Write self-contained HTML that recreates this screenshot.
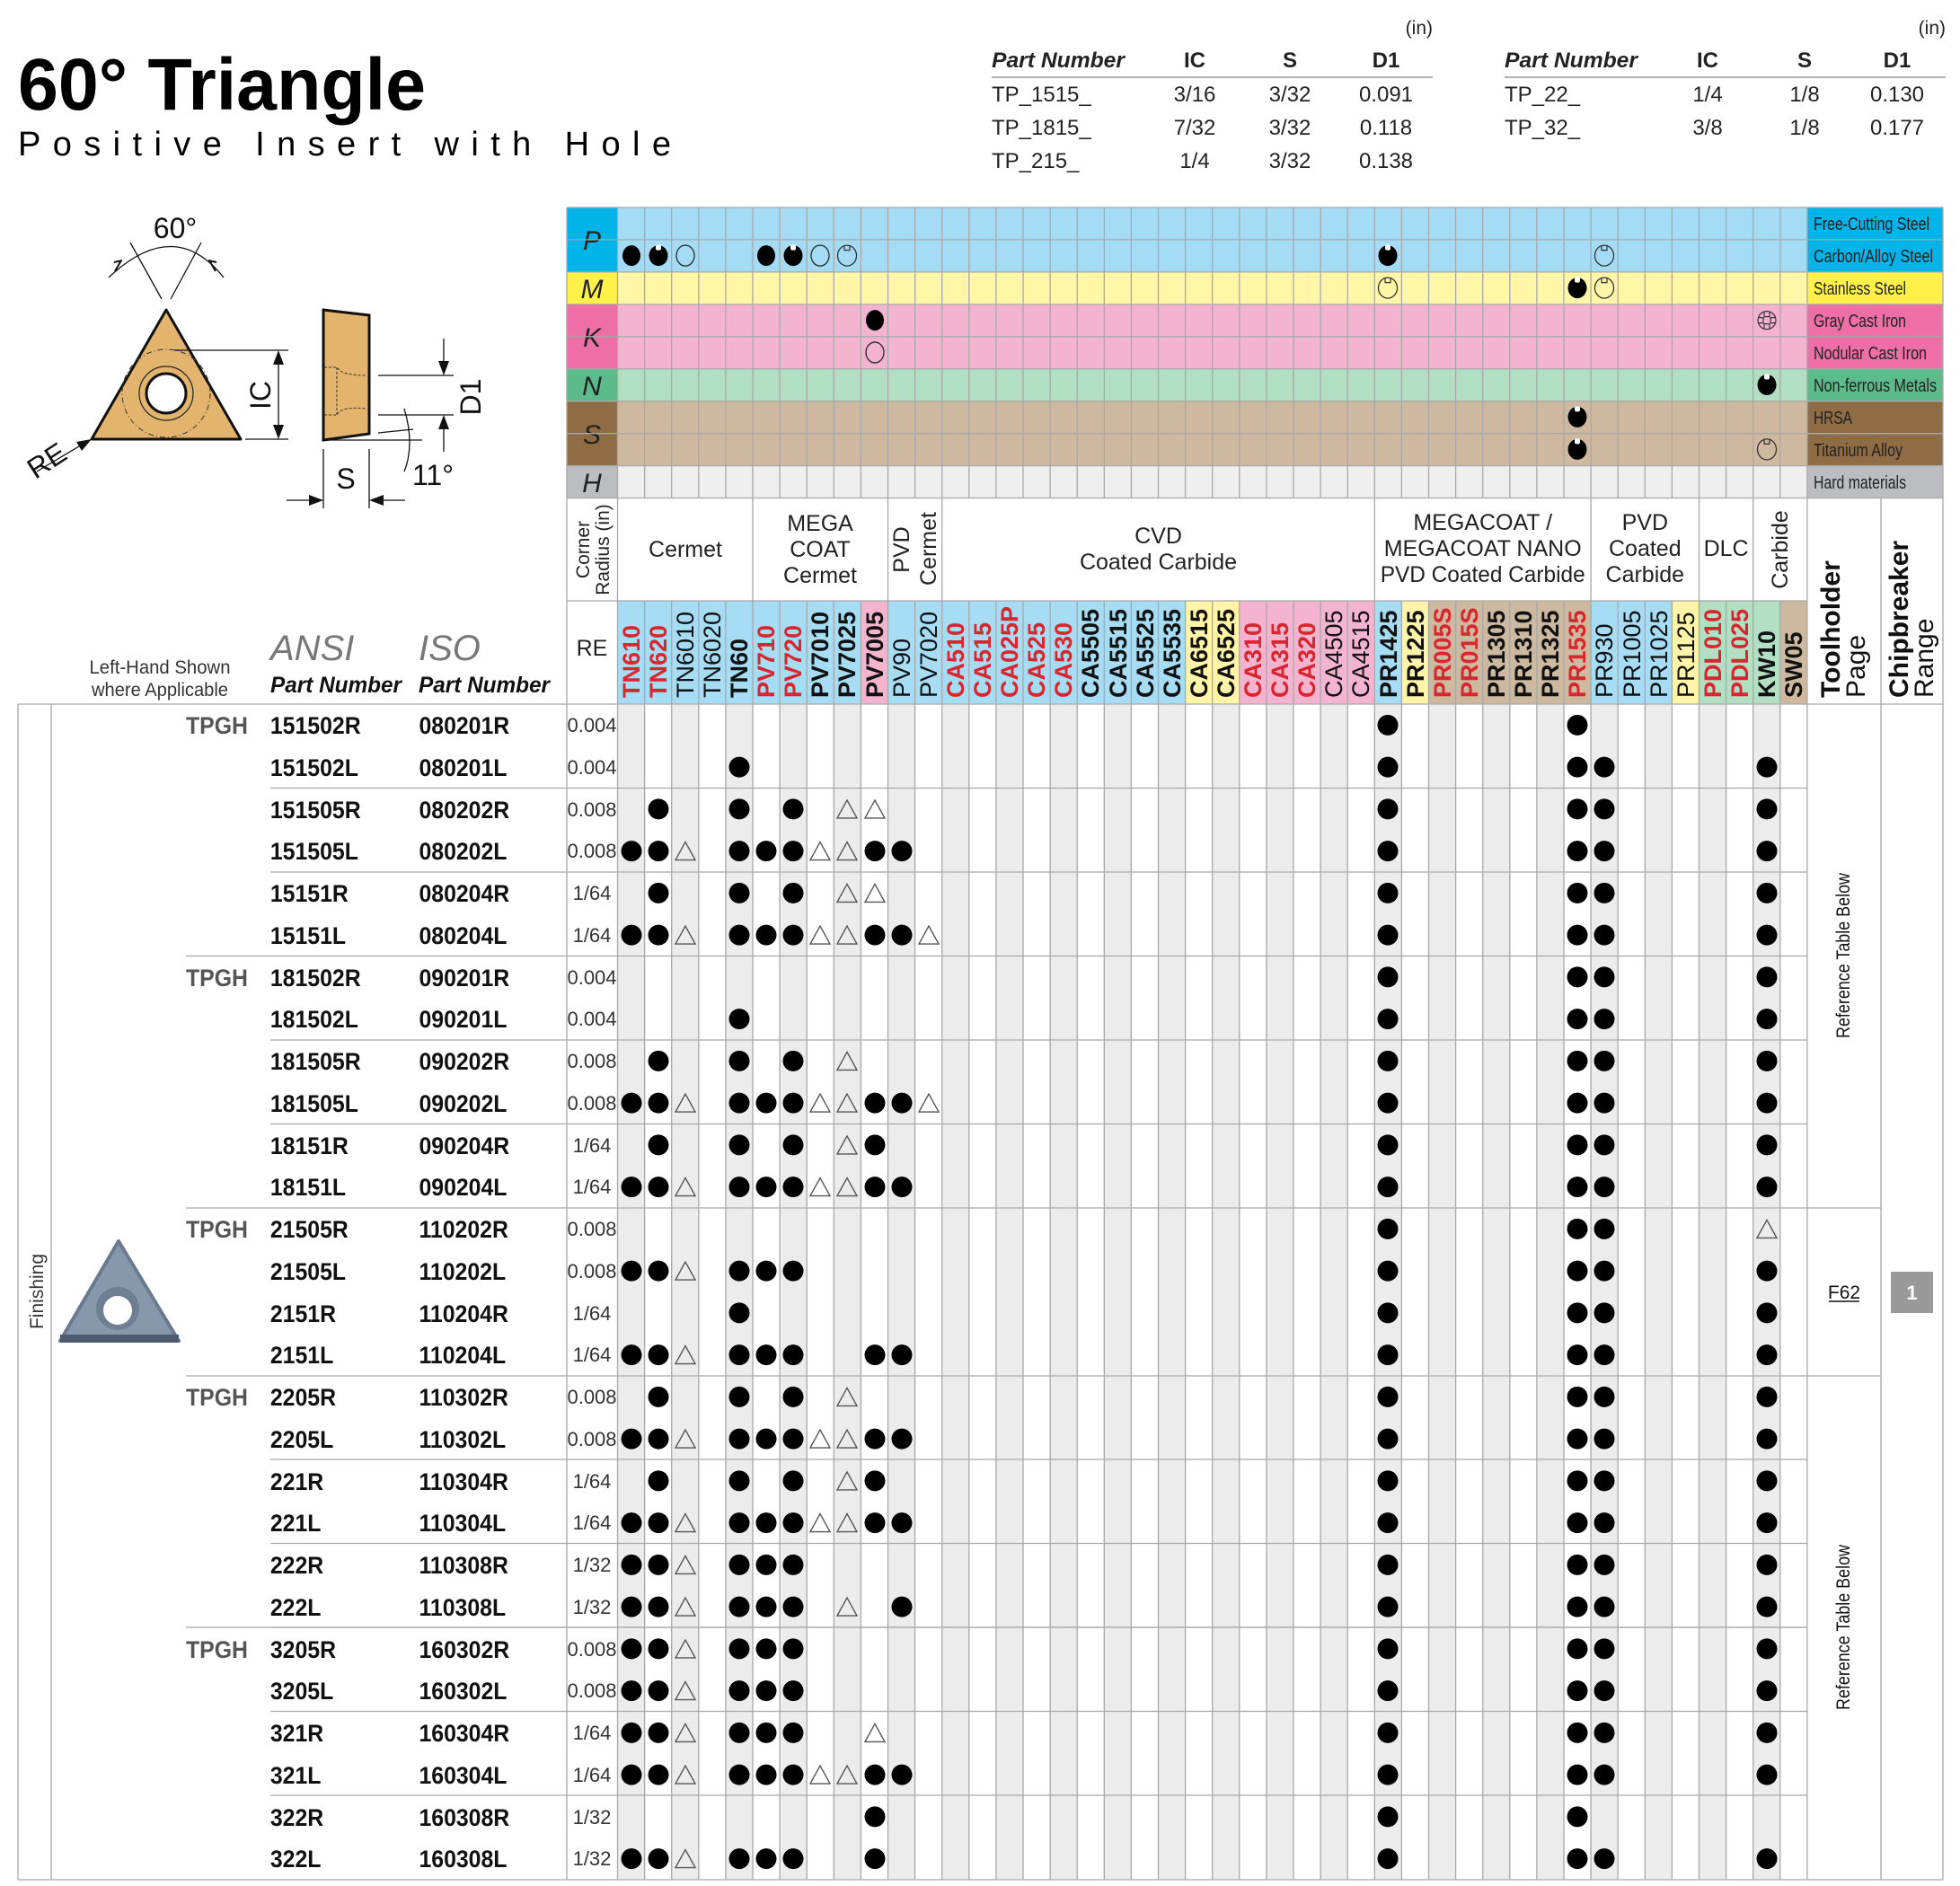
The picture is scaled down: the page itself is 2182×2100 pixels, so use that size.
<!DOCTYPE html>
<html><head><meta charset="utf-8"><style>
html,body{margin:0;padding:0;background:#fff;}
svg{display:block;}
.n{font-family:"Liberation Sans Narrow","Liberation Sans",sans-serif;}
.s{font-family:"Liberation Sans",sans-serif;}
</style></head><body>
<svg width="2182" height="2100" viewBox="0 0 2182 2100" xmlns="http://www.w3.org/2000/svg">
<defs>
<ellipse id="d" cx="0" cy="0" rx="11.5" ry="11.5" fill="#000"/>
<polygon id="t" points="0,-10 11,10 -11,10" fill="none" stroke="#555" stroke-width="1.4"/>
<ellipse id="dm" cx="0" cy="0" rx="10" ry="11.5" fill="#000"/>
<ellipse id="o" cx="0" cy="0" rx="10" ry="11.5" fill="none" stroke="#333" stroke-width="1.4"/>
<g id="nf"><ellipse cx="0" cy="0" rx="10.5" ry="11.5" fill="#000"/><rect x="-3" y="-12" width="6" height="6" rx="2" fill="#fff"/></g>
<g id="no"><ellipse cx="0" cy="0" rx="10.5" ry="11.5" fill="none" stroke="#333" stroke-width="1.3"/><path d="M-3 -11.5V-6H3V-11.5" fill="none" stroke="#333" stroke-width="1.2"/></g>
<g id="gear" fill="none" stroke="#333" stroke-width="1.2"><circle r="10"/><path d="M-3 -10V-4H3V-10M-3 10V4H3V10M-10 -3H-4V3H-10M10 -3H4V3H10"/></g>
<g id="T"><use href="#d" x="1545"/><use href="#d" x="1756"/><use href="#d" x="1786"/><use href="#d" x="1967"/></g>
<g id="A"><use href="#d" x="703"/><use href="#d" x="733"/><use href="#t" x="763"/><use href="#d" x="823"/><use href="#d" x="853"/><use href="#d" x="883"/><use href="#T"/></g>
<g id="R3"><use href="#A"/><use href="#t" x="913"/><use href="#t" x="943"/><use href="#d" x="974"/><use href="#d" x="1004"/></g>
<g id="B"><use href="#d" x="733"/><use href="#d" x="823"/><use href="#d" x="883"/><use href="#T"/></g>
</defs>

<!-- Title -->
<text x="20" y="122" class="s" font-size="82" font-weight="bold" textLength="454" lengthAdjust="spacingAndGlyphs">60° Triangle</text>
<text x="20" y="173" class="s" font-size="38" textLength="727" lengthAdjust="spacing">Positive Insert with Hole</text>

<!-- Top spec tables -->
<g class="n" font-size="24" fill="#222">
<text x="1595" y="38" text-anchor="end" font-size="21">(in)</text>
<text x="1104" y="75" font-weight="bold" font-style="italic" textLength="148" lengthAdjust="spacingAndGlyphs">Part Number</text>
<text x="1330" y="75" font-weight="bold" text-anchor="middle">IC</text>
<text x="1436" y="75" font-weight="bold" text-anchor="middle">S</text>
<text x="1543" y="75" font-weight="bold" text-anchor="middle">D1</text>
<line x1="1104" y1="86" x2="1595" y2="86" stroke="#999" stroke-width="1.5"/>
<text x="1104" y="113">TP_1515_</text><text x="1330" y="113" text-anchor="middle">3/16</text><text x="1436" y="113" text-anchor="middle">3/32</text><text x="1543" y="113" text-anchor="middle">0.091</text>
<text x="1104" y="150">TP_1815_</text><text x="1330" y="150" text-anchor="middle">7/32</text><text x="1436" y="150" text-anchor="middle">3/32</text><text x="1543" y="150" text-anchor="middle">0.118</text>
<text x="1104" y="187">TP_215_</text><text x="1330" y="187" text-anchor="middle">1/4</text><text x="1436" y="187" text-anchor="middle">3/32</text><text x="1543" y="187" text-anchor="middle">0.138</text>
<text x="2166" y="38" text-anchor="end" font-size="21">(in)</text>
<text x="1675" y="75" font-weight="bold" font-style="italic" textLength="148" lengthAdjust="spacingAndGlyphs">Part Number</text>
<text x="1901" y="75" font-weight="bold" text-anchor="middle">IC</text>
<text x="2009" y="75" font-weight="bold" text-anchor="middle">S</text>
<text x="2112" y="75" font-weight="bold" text-anchor="middle">D1</text>
<line x1="1675" y1="86" x2="2166" y2="86" stroke="#999" stroke-width="1.5"/>
<text x="1675" y="113">TP_22_</text><text x="1901" y="113" text-anchor="middle">1/4</text><text x="2009" y="113" text-anchor="middle">1/8</text><text x="2112" y="113" text-anchor="middle">0.130</text>
<text x="1675" y="150">TP_32_</text><text x="1901" y="150" text-anchor="middle">3/8</text><text x="2009" y="150" text-anchor="middle">1/8</text><text x="2112" y="150" text-anchor="middle">0.177</text>
</g>

<!-- Diagram -->
<g stroke="#111" fill="none" stroke-width="1.3">
<path d="M121 309 Q194 240 249 309"/>
<path d="M145 270 L180 333 M224 270 L190 333"/>
<path d="M135 290 l-7 12 M136 290 l-9 2" stroke-width="2"/>
<path d="M233 290 l7 12 M232 290 l9 2" stroke-width="2"/>
</g>
<polygon points="185,345 102,489 268,489" fill="#e3b46e" stroke="#111" stroke-width="3" stroke-linejoin="round"/>
<circle cx="185" cy="438" r="49" fill="none" stroke="#333" stroke-width="1" stroke-dasharray="6,3,1,3"/>
<circle cx="185" cy="438" r="30" fill="none" stroke="#222" stroke-width="1.2"/>
<circle cx="185" cy="438" r="22" fill="#fff" stroke="#111" stroke-width="3"/>
<g stroke="#111" stroke-width="1.3" fill="none">
<path d="M194 390H321 M273 489H321 M310 394V485"/>
<path d="M421 418H505 M421 462H505 M494 377V414 M494 466V503"/>
<path d="M360 500V566 M411 500V566 M319 557H356 M415 557H451"/>
<path d="M421 482 L460 478 M360 490 H470 M450 455 Q462 495 450 525"/>
<path d="M41 525 L98 491"/>
</g>
<g fill="#111">
<polygon points="310,390 304,406 316,406"/><polygon points="310,489 304,473 316,473"/>
<polygon points="494,418 488,402 500,402"/><polygon points="494,462 488,478 500,478"/>
<polygon points="360,557 344,551 344,563"/><polygon points="411,557 427,551 427,563"/>
<polygon points="102,489 85,492 91,502"/>
</g>
<polygon points="360,345 411,351 411,483 360,490" fill="#e3b46e" stroke="#111" stroke-width="3"/>
<path d="M361 409H375 Q380 418 408 418 M361 462H375 Q380 452 408 455 M375 409V462" fill="none" stroke="#333" stroke-width="1" stroke-dasharray="3,2"/>
<g class="n" font-size="32" fill="#111">
<text x="195" y="265" text-anchor="middle">60°</text>
<text x="385" y="544" text-anchor="middle">S</text>
<text x="459" y="540">11°</text>
<text transform="translate(301,440) rotate(-90)" text-anchor="middle">IC</text>
<text transform="translate(535,442) rotate(-90)" text-anchor="middle">D1</text>
<text transform="translate(58,522) rotate(-33)" text-anchor="middle">RE</text>
</g>

<!-- Material area backgrounds -->
<rect x="631" y="231" width="56.5" height="71.9" fill="#00b3e8"/>
<rect x="631" y="302.9" width="56.5" height="36" fill="#fff04a"/>
<rect x="631" y="338.9" width="56.5" height="71.9" fill="#ee6ea6"/>
<rect x="631" y="410.8" width="56.5" height="35.9" fill="#5dba8b"/>
<rect x="631" y="446.7" width="56.5" height="71.9" fill="#8e6c45"/>
<rect x="631" y="518.6" width="56.5" height="35.9" fill="#bcbdc0"/>
<rect x="687.5" y="231" width="1324.4" height="71.9" fill="#a5dcf5"/>
<rect x="687.5" y="302.9" width="1324.4" height="36" fill="#fff6a8"/>
<rect x="687.5" y="338.9" width="1324.4" height="71.9" fill="#f4b4d0"/>
<rect x="687.5" y="410.8" width="1324.4" height="35.9" fill="#b2dfc3"/>
<rect x="687.5" y="446.7" width="1324.4" height="71.9" fill="#cfb8a0"/>
<rect x="687.5" y="518.6" width="1324.4" height="35.9" fill="#efefef"/>
<rect x="2012" y="231" width="151" height="71.9" fill="#00b3e8"/>
<rect x="2012" y="302.9" width="151" height="36" fill="#fff04a"/>
<rect x="2012" y="338.9" width="151" height="71.9" fill="#ee6ea6"/>
<rect x="2012" y="410.8" width="151" height="35.9" fill="#5dba8b"/>
<rect x="2012" y="446.7" width="151" height="71.9" fill="#8e6c45"/>
<rect x="2012" y="518.6" width="151" height="35.9" fill="#bcbdc0"/>
<g class="s" font-size="30" font-style="italic" fill="#222" text-anchor="middle">
<text x="659" y="278">P</text><text x="659" y="332">M</text><text x="659" y="386">K</text><text x="659" y="440">N</text><text x="659" y="494">S</text><text x="659" y="548">H</text>
</g>
<g class="n" font-size="20" fill="#222" lengthAdjust="spacingAndGlyphs">
<text x="2019" y="256" textLength="129" lengthAdjust="spacingAndGlyphs">Free-Cutting Steel</text>
<text x="2019" y="292" textLength="133" lengthAdjust="spacingAndGlyphs">Carbon/Alloy Steel</text>
<text x="2019" y="328" textLength="103" lengthAdjust="spacingAndGlyphs">Stainless Steel</text>
<text x="2019" y="364" textLength="103" lengthAdjust="spacingAndGlyphs">Gray Cast Iron</text>
<text x="2019" y="400" textLength="126" lengthAdjust="spacingAndGlyphs">Nodular Cast Iron</text>
<text x="2019" y="436" textLength="137" lengthAdjust="spacingAndGlyphs">Non-ferrous Metals</text>
<text x="2019" y="472" textLength="43" lengthAdjust="spacingAndGlyphs">HRSA</text>
<text x="2019" y="508" textLength="99" lengthAdjust="spacingAndGlyphs">Titanium Alloy</text>
<text x="2019" y="544" textLength="103" lengthAdjust="spacingAndGlyphs">Hard materials</text>
</g>

<!-- Name row backgrounds -->
<rect x="687.5" y="669" width="270.9" height="115" fill="#a6dcf4"/>
<rect x="958.4" y="669" width="30.1" height="115" fill="#f4b3cf"/>
<rect x="988.5" y="669" width="331.1" height="115" fill="#a6dcf4"/>
<rect x="1319.6" y="669" width="60.2" height="115" fill="#fff5a8"/>
<rect x="1379.8" y="669" width="150.5" height="115" fill="#f4b3cf"/>
<rect x="1530.3" y="669" width="30.1" height="115" fill="#a6dcf4"/>
<rect x="1560.4" y="669" width="30.1" height="115" fill="#fff5a8"/>
<rect x="1590.5" y="669" width="180.6" height="115" fill="#cdb8a0"/>
<rect x="1771.1" y="669" width="90.3" height="115" fill="#a6dcf4"/>
<rect x="1861.4" y="669" width="30.1" height="115" fill="#fff5a8"/>
<rect x="1891.5" y="669" width="90.3" height="115" fill="#b3dfc4"/>
<rect x="1981.8" y="669" width="30.1" height="115" fill="#cdb8a0"/>

<!-- Data shading -->
<g fill="#ececec">
<rect x="687.5" y="784" width="30.1" height="1309"/><rect x="747.7" y="784" width="30.1" height="1309"/><rect x="807.9" y="784" width="30.1" height="1309"/><rect x="868.1" y="784" width="30.1" height="1309"/><rect x="928.3" y="784" width="30.1" height="1309"/><rect x="988.5" y="784" width="30.1" height="1309"/><rect x="1048.7" y="784" width="30.1" height="1309"/><rect x="1108.9" y="784" width="30.1" height="1309"/><rect x="1169.1" y="784" width="30.1" height="1309"/><rect x="1229.3" y="784" width="30.1" height="1309"/><rect x="1289.5" y="784" width="30.1" height="1309"/><rect x="1349.7" y="784" width="30.1" height="1309"/><rect x="1409.9" y="784" width="30.1" height="1309"/><rect x="1470.1" y="784" width="30.1" height="1309"/><rect x="1530.3" y="784" width="30.1" height="1309"/><rect x="1590.5" y="784" width="30.1" height="1309"/><rect x="1650.7" y="784" width="30.1" height="1309"/><rect x="1710.9" y="784" width="30.1" height="1309"/><rect x="1771.1" y="784" width="30.1" height="1309"/><rect x="1831.3" y="784" width="30.1" height="1309"/><rect x="1891.5" y="784" width="30.1" height="1309"/><rect x="1951.7" y="784" width="30.1" height="1309"/>
</g>

<!-- Grid lines -->
<g stroke="#a8a8a8" stroke-width="1.3" fill="none">
<path d="M631 266.9H2163M631 302.9H2163M631 338.9H2163M631 374.8H2163M631 410.8H2163M631 446.7H2163M631 482.7H2163M631 518.6H2163"/>
<path d="M631 231H2163M631 554.5H2163M631 669H2012M20 784H2163M20 2093H2163"/>
<path d="M20 784V2093M57 784V2093M631 231V2093M2094 554.5V2093M2163 231V2093"/>
<path d="M687.5 231V2093M838 231V2093M988.5 231V2093M1048.7 231V2093M1530.3 231V2093M1771.1 231V2093M1891.5 231V2093M1951.7 231V2093M2011.9 231V2093"/>
<path d="M717.6 231V554.5M747.7 231V554.5M777.8 231V554.5M807.9 231V554.5M868.1 231V554.5M898.2 231V554.5M928.3 231V554.5M958.4 231V554.5M1018.6 231V554.5M1078.8 231V554.5M1108.9 231V554.5M1139 231V554.5M1169.1 231V554.5M1199.2 231V554.5M1229.3 231V554.5M1259.4 231V554.5M1289.5 231V554.5M1319.6 231V554.5M1349.7 231V554.5M1379.8 231V554.5M1409.9 231V554.5M1440 231V554.5M1470.1 231V554.5M1500.2 231V554.5M1560.4 231V554.5M1590.5 231V554.5M1620.6 231V554.5M1650.7 231V554.5M1680.8 231V554.5M1710.9 231V554.5M1741 231V554.5M1801.2 231V554.5M1831.3 231V554.5M1861.4 231V554.5M1921.6 231V554.5M1981.8 231V554.5"/>
<path d="M717.6 669V2093M747.7 669V2093M777.8 669V2093M807.9 669V2093M868.1 669V2093M898.2 669V2093M928.3 669V2093M958.4 669V2093M1018.6 669V2093M1078.8 669V2093M1108.9 669V2093M1139 669V2093M1169.1 669V2093M1199.2 669V2093M1229.3 669V2093M1259.4 669V2093M1289.5 669V2093M1319.6 669V2093M1349.7 669V2093M1379.8 669V2093M1409.9 669V2093M1440 669V2093M1470.1 669V2093M1500.2 669V2093M1560.4 669V2093M1590.5 669V2093M1620.6 669V2093M1650.7 669V2093M1680.8 669V2093M1710.9 669V2093M1741 669V2093M1801.2 669V2093M1831.3 669V2093M1861.4 669V2093M1921.6 669V2093M1981.8 669V2093"/>
<path d="M301 877.5H2012M301 971H2012M301 1158H2012M301 1251.5H2012M301 1625H2012M301 1718.5H2012M301 1812H2012M301 1905.5H2012M301 1999H2012"/>
<path d="M207 1064.5H2012M207 1345H2094M207 1532H2094M207 1812H2012"/>
</g>

<!-- Group headers -->
<g class="s" font-size="25" fill="#222" text-anchor="middle">
<text x="763" y="620">Cermet</text>
<text x="913" y="591">MEGA</text><text x="913" y="620">COAT</text><text x="913" y="649">Cermet</text>
<text transform="translate(1012,612) rotate(-90)">PVD</text>
<text transform="translate(1042,611) rotate(-90)">Cermet</text>
<text x="1289.5" y="605">CVD</text><text x="1289.5" y="634">Coated Carbide</text>
<text x="1650.7" y="590">MEGACOAT /</text><text x="1650.7" y="619">MEGACOAT NANO</text><text x="1650.7" y="648" textLength="228" lengthAdjust="spacingAndGlyphs">PVD Coated Carbide</text>
<text x="1831.3" y="590">PVD</text><text x="1831.3" y="619">Coated</text><text x="1831.3" y="648">Carbide</text>
<text x="1921.6" y="619">DLC</text>
<text transform="translate(1990,612) rotate(-90)">Carbide</text>
<text x="659" y="730">RE</text>
</g>
<g class="s" font-size="21" fill="#222" text-anchor="middle">
<text transform="translate(656,612) rotate(-90)">Corner</text>
<text transform="translate(678,612) rotate(-90)">Radius (in)</text>
</g>
<g class="s" font-size="30" fill="#111">
<text transform="translate(2048,777) rotate(-90)"><tspan font-weight="bold">Toolholder</tspan></text>
<text transform="translate(2076,777) rotate(-90)">Page</text>
<text transform="translate(2124,777) rotate(-90)"><tspan font-weight="bold">Chipbreaker</tspan></text>
<text transform="translate(2152,777) rotate(-90)">Range</text>
</g>

<!-- Grade names -->
<g class="s" font-size="27">
<text transform="translate(712,777) rotate(-90)" fill="#d7262e" font-weight="bold">TN610</text>
<text transform="translate(742,777) rotate(-90)" fill="#d7262e" font-weight="bold">TN620</text>
<text transform="translate(772,777) rotate(-90)" fill="#111">TN6010</text>
<text transform="translate(802,777) rotate(-90)" fill="#111">TN6020</text>
<text transform="translate(832,777) rotate(-90)" fill="#111" font-weight="bold">TN60</text>
<text transform="translate(862,777) rotate(-90)" fill="#d7262e" font-weight="bold">PV710</text>
<text transform="translate(892,777) rotate(-90)" fill="#d7262e" font-weight="bold">PV720</text>
<text transform="translate(922,777) rotate(-90)" fill="#111" font-weight="bold">PV7010</text>
<text transform="translate(952,777) rotate(-90)" fill="#111" font-weight="bold">PV7025</text>
<text transform="translate(983,777) rotate(-90)" fill="#111" font-weight="bold">PV7005</text>
<text transform="translate(1013,777) rotate(-90)" fill="#111">PV90</text>
<text transform="translate(1043,777) rotate(-90)" fill="#111">PV7020</text>
<text transform="translate(1073,777) rotate(-90)" fill="#d7262e" font-weight="bold">CA510</text>
<text transform="translate(1103,777) rotate(-90)" fill="#d7262e" font-weight="bold">CA515</text>
<text transform="translate(1133,777) rotate(-90)" fill="#d7262e" font-weight="bold">CA025P</text>
<text transform="translate(1163,777) rotate(-90)" fill="#d7262e" font-weight="bold">CA525</text>
<text transform="translate(1193,777) rotate(-90)" fill="#d7262e" font-weight="bold">CA530</text>
<text transform="translate(1223,777) rotate(-90)" fill="#111" font-weight="bold">CA5505</text>
<text transform="translate(1254,777) rotate(-90)" fill="#111" font-weight="bold">CA5515</text>
<text transform="translate(1284,777) rotate(-90)" fill="#111" font-weight="bold">CA5525</text>
<text transform="translate(1314,777) rotate(-90)" fill="#111" font-weight="bold">CA5535</text>
<text transform="translate(1344,777) rotate(-90)" fill="#111" font-weight="bold">CA6515</text>
<text transform="translate(1374,777) rotate(-90)" fill="#111" font-weight="bold">CA6525</text>
<text transform="translate(1404,777) rotate(-90)" fill="#d7262e" font-weight="bold">CA310</text>
<text transform="translate(1434,777) rotate(-90)" fill="#d7262e" font-weight="bold">CA315</text>
<text transform="translate(1464,777) rotate(-90)" fill="#d7262e" font-weight="bold">CA320</text>
<text transform="translate(1494,777) rotate(-90)" fill="#111">CA4505</text>
<text transform="translate(1524,777) rotate(-90)" fill="#111">CA4515</text>
<text transform="translate(1555,777) rotate(-90)" fill="#111" font-weight="bold">PR1425</text>
<text transform="translate(1585,777) rotate(-90)" fill="#111" font-weight="bold">PR1225</text>
<text transform="translate(1615,777) rotate(-90)" fill="#d7262e" font-weight="bold">PR005S</text>
<text transform="translate(1645,777) rotate(-90)" fill="#d7262e" font-weight="bold">PR015S</text>
<text transform="translate(1675,777) rotate(-90)" fill="#111" font-weight="bold">PR1305</text>
<text transform="translate(1705,777) rotate(-90)" fill="#111" font-weight="bold">PR1310</text>
<text transform="translate(1735,777) rotate(-90)" fill="#111" font-weight="bold">PR1325</text>
<text transform="translate(1765,777) rotate(-90)" fill="#d7262e" font-weight="bold">PR1535</text>
<text transform="translate(1795,777) rotate(-90)" fill="#111">PR930</text>
<text transform="translate(1826,777) rotate(-90)" fill="#111">PR1005</text>
<text transform="translate(1856,777) rotate(-90)" fill="#111">PR1025</text>
<text transform="translate(1886,777) rotate(-90)" fill="#111">PR1125</text>
<text transform="translate(1916,777) rotate(-90)" fill="#d7262e" font-weight="bold">PDL010</text>
<text transform="translate(1946,777) rotate(-90)" fill="#d7262e" font-weight="bold">PDL025</text>
<text transform="translate(1976,777) rotate(-90)" fill="#111" font-weight="bold">KW10</text>
<text transform="translate(2006,777) rotate(-90)" fill="#111" font-weight="bold">SW05</text>
</g>

<!-- Material symbols -->
<use href="#dm" x="703" y="284.6"/><use href="#nf" x="733" y="284.6"/><use href="#o" x="763" y="284.6"/>
<use href="#dm" x="853" y="284.6"/><use href="#nf" x="883" y="284.6"/><use href="#o" x="913" y="284.6"/><use href="#no" x="943" y="284.6"/>
<use href="#nf" x="1545" y="284.6"/><use href="#no" x="1786" y="284.6"/>
<use href="#no" x="1545" y="320.6"/><use href="#nf" x="1756" y="320.6"/><use href="#no" x="1786" y="320.6"/>
<use href="#dm" x="974" y="356.6"/><use href="#gear" x="1967" y="356.6"/>
<use href="#o" x="974" y="392.5"/>
<use href="#nf" x="1967" y="428.5"/>
<use href="#nf" x="1756" y="464.4"/>
<use href="#nf" x="1756" y="500.4"/><use href="#no" x="1967" y="500.4"/>

<!-- Left header -->
<g class="n" fill="#333" font-size="21" text-anchor="middle">
<text x="178" y="750" textLength="157" lengthAdjust="spacingAndGlyphs">Left-Hand Shown</text>
<text x="178" y="775" textLength="152" lengthAdjust="spacingAndGlyphs">where Applicable</text>
</g>
<g class="s" font-style="italic">
<text x="301" y="735" font-size="40" fill="#777">ANSI</text>
<text x="466" y="735" font-size="40" fill="#777">ISO</text>
<text x="301" y="771" font-size="25" font-weight="bold" fill="#111" textLength="146" lengthAdjust="spacingAndGlyphs">Part Number</text>
<text x="466" y="771" font-size="25" font-weight="bold" fill="#111" textLength="146" lengthAdjust="spacingAndGlyphs">Part Number</text>
</g>

<!-- Insert photo -->
<polygon points="132,1382 199,1493 67,1493" fill="#8797ac" stroke="#6a7b90" stroke-width="4" stroke-linejoin="round"/>
<polygon points="67,1486 199,1486 199,1495 67,1495" fill="#4d5c6e"/>
<circle cx="131" cy="1457" r="24" fill="#6e7f94"/>
<circle cx="131" cy="1459" r="16" fill="#fff"/>
<text transform="translate(48,1438) rotate(-90)" class="s" font-size="21" fill="#333" text-anchor="middle">Finishing</text>

<!-- Row labels -->
<g transform="scale(0.92,1)">
<g class="n" font-size="27" font-weight="bold" fill="#111">
<text x="225" y="817" fill="#555">TPGH</text><text x="225" y="1098" fill="#555">TPGH</text><text x="225" y="1378" fill="#555">TPGH</text><text x="225" y="1565" fill="#555">TPGH</text><text x="225" y="1846" fill="#555">TPGH</text>
<text x="327" y="817">151502R</text><text x="507" y="817">080201R</text>
<text x="327" y="864">151502L</text><text x="507" y="864">080201L</text>
<text x="327" y="911">151505R</text><text x="507" y="911">080202R</text>
<text x="327" y="957">151505L</text><text x="507" y="957">080202L</text>
<text x="327" y="1004">15151R</text><text x="507" y="1004">080204R</text>
<text x="327" y="1051">15151L</text><text x="507" y="1051">080204L</text>
<text x="327" y="1098">181502R</text><text x="507" y="1098">090201R</text>
<text x="327" y="1144">181502L</text><text x="507" y="1144">090201L</text>
<text x="327" y="1191">181505R</text><text x="507" y="1191">090202R</text>
<text x="327" y="1238">181505L</text><text x="507" y="1238">090202L</text>
<text x="327" y="1285">18151R</text><text x="507" y="1285">090204R</text>
<text x="327" y="1331">18151L</text><text x="507" y="1331">090204L</text>
<text x="327" y="1378">21505R</text><text x="507" y="1378">110202R</text>
<text x="327" y="1425">21505L</text><text x="507" y="1425">110202L</text>
<text x="327" y="1472">2151R</text><text x="507" y="1472">110204R</text>
<text x="327" y="1518">2151L</text><text x="507" y="1518">110204L</text>
<text x="327" y="1565">2205R</text><text x="507" y="1565">110302R</text>
<text x="327" y="1612">2205L</text><text x="507" y="1612">110302L</text>
<text x="327" y="1659">221R</text><text x="507" y="1659">110304R</text>
<text x="327" y="1705">221L</text><text x="507" y="1705">110304L</text>
<text x="327" y="1752">222R</text><text x="507" y="1752">110308R</text>
<text x="327" y="1799">222L</text><text x="507" y="1799">110308L</text>
<text x="327" y="1846">3205R</text><text x="507" y="1846">160302R</text>
<text x="327" y="1892">3205L</text><text x="507" y="1892">160302L</text>
<text x="327" y="1939">321R</text><text x="507" y="1939">160304R</text>
<text x="327" y="1986">321L</text><text x="507" y="1986">160304L</text>
<text x="327" y="2033">322R</text><text x="507" y="2033">160308R</text>
<text x="327" y="2079">322L</text><text x="507" y="2079">160308L</text>
</g>
</g>
<g class="n" font-size="22" fill="#333" text-anchor="middle">
<text x="659" y="815">0.004</text><text x="659" y="862">0.004</text><text x="659" y="909">0.008</text><text x="659" y="955">0.008</text><text x="659" y="1002">1/64</text><text x="659" y="1049">1/64</text>
<text x="659" y="1096">0.004</text><text x="659" y="1142">0.004</text><text x="659" y="1189">0.008</text><text x="659" y="1236">0.008</text><text x="659" y="1283">1/64</text><text x="659" y="1329">1/64</text>
<text x="659" y="1376">0.008</text><text x="659" y="1423">0.008</text><text x="659" y="1470">1/64</text><text x="659" y="1516">1/64</text>
<text x="659" y="1563">0.008</text><text x="659" y="1610">0.008</text><text x="659" y="1657">1/64</text><text x="659" y="1703">1/64</text><text x="659" y="1750">1/32</text><text x="659" y="1797">1/32</text>
<text x="659" y="1844">0.008</text><text x="659" y="1890">0.008</text><text x="659" y="1937">1/64</text><text x="659" y="1984">1/64</text><text x="659" y="2031">1/32</text><text x="659" y="2077">1/32</text>
</g>

<!-- Data symbols -->
<use href="#d" x="1545" y="807.4"/><use href="#d" x="1756" y="807.4"/>
<g transform="translate(0,854.1)"><use href="#d" x="823"/><use href="#T"/></g>
<g transform="translate(0,900.9)"><use href="#B"/><use href="#t" x="943"/><use href="#t" x="974"/></g>
<use href="#R3" y="947.6"/>
<g transform="translate(0,994.4)"><use href="#B"/><use href="#t" x="943"/><use href="#t" x="974"/></g>
<g transform="translate(0,1041.1)"><use href="#R3"/><use href="#t" x="1034"/></g>
<use href="#T" y="1087.9"/>
<g transform="translate(0,1134.6)"><use href="#d" x="823"/><use href="#T"/></g>
<g transform="translate(0,1181.4)"><use href="#B"/><use href="#t" x="943"/></g>
<g transform="translate(0,1228.1)"><use href="#R3"/><use href="#t" x="1034"/></g>
<g transform="translate(0,1274.9)"><use href="#B"/><use href="#t" x="943"/><use href="#d" x="974"/></g>
<use href="#R3" y="1321.6"/>
<g transform="translate(0,1368.4)"><use href="#d" x="1545"/><use href="#d" x="1756"/><use href="#d" x="1786"/><use href="#t" x="1967"/></g>
<use href="#A" y="1415.1"/>
<g transform="translate(0,1461.9)"><use href="#d" x="823"/><use href="#T"/></g>
<g transform="translate(0,1508.6)"><use href="#A"/><use href="#d" x="974"/><use href="#d" x="1004"/></g>
<g transform="translate(0,1555.4)"><use href="#B"/><use href="#t" x="943"/></g>
<use href="#R3" y="1602.1"/>
<g transform="translate(0,1648.9)"><use href="#B"/><use href="#t" x="943"/><use href="#d" x="974"/></g>
<use href="#R3" y="1695.6"/>
<use href="#A" y="1742.4"/>
<g transform="translate(0,1789.1)"><use href="#A"/><use href="#t" x="943"/><use href="#d" x="1004"/></g>
<use href="#A" y="1835.9"/>
<use href="#A" y="1882.6"/>
<g transform="translate(0,1929.4)"><use href="#A"/><use href="#t" x="974"/></g>
<use href="#R3" y="1976.1"/>
<g transform="translate(0,2022.9)"><use href="#d" x="974"/><use href="#d" x="1545"/><use href="#d" x="1756"/></g>
<g transform="translate(0,2069.6)"><use href="#A"/><use href="#d" x="974"/></g>

<!-- Right columns -->
<g class="n" font-size="21" fill="#111" text-anchor="middle">
<text transform="translate(2059,1064) rotate(-90)" textLength="184" lengthAdjust="spacingAndGlyphs">Reference Table Below</text>
<text transform="translate(2059,1812) rotate(-90)" textLength="184" lengthAdjust="spacingAndGlyphs">Reference Table Below</text>
</g>
<text x="2053" y="1446" class="s" font-size="21" fill="#111" text-anchor="middle">F62</text>
<line x1="2036" y1="1449" x2="2070" y2="1449" stroke="#111" stroke-width="1.5"/>
<rect x="2105" y="1416" width="47" height="46" fill="#999"/>
<text x="2128.5" y="1447" class="s" font-size="22" font-weight="bold" fill="#fff" text-anchor="middle">1</text>
</svg>
</body></html>
